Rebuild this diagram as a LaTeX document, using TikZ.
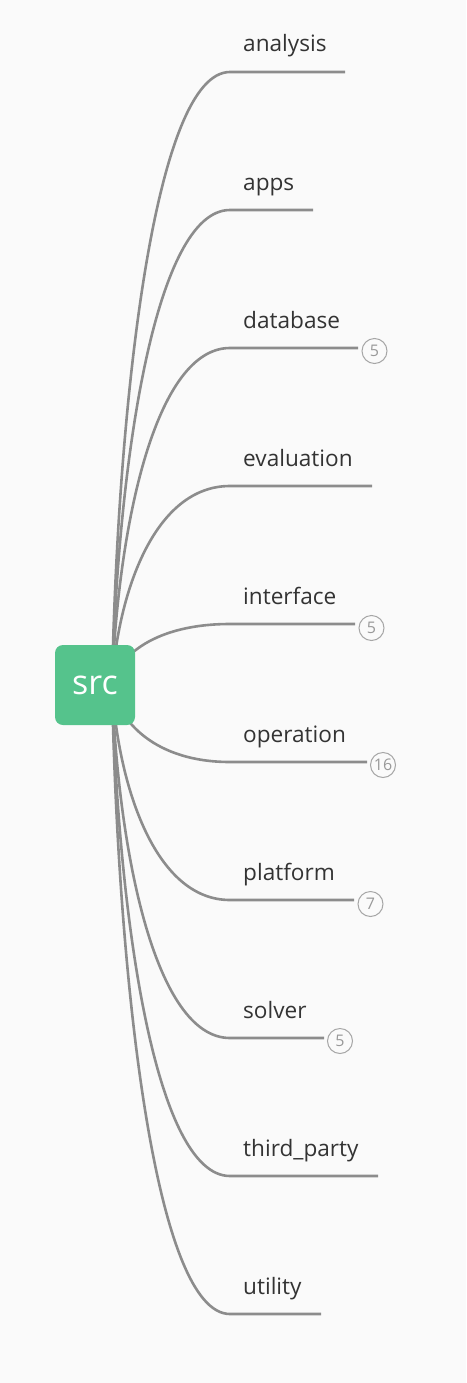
\documentclass[tikz,border=0pt]{standalone}
\usepackage{fontspec}
\setmainfont{Open Sans}
\definecolor{bg}{HTML}{FAFAFA}
\definecolor{edgec}{HTML}{8C8C8C}
\definecolor{rootc}{HTML}{55C38C}
\definecolor{txt}{HTML}{333333}
\definecolor{badgec}{HTML}{A6A6A6}
\definecolor{badget}{HTML}{999999}
\begin{document}
\begin{tikzpicture}[x=1pt,y=-1pt,
 edgeline/.style={draw=edgec,line width=2.6pt},
 leaf/.style={anchor=base west,inner sep=0pt,text=txt,font=\fontsize{22.6}{26}\selectfont},
 badge/.style={circle,draw=badgec,line width=1pt,minimum size=25pt,inner sep=0pt,text=badget,font=\fontsize{16}{18}\selectfont},
 root/.style={fill=rootc,rounded corners=8pt,minimum width=80pt,minimum height=80pt,inner sep=0pt,text=white,font=\fontsize{34}{36}\selectfont}]
\fill[bg] (0,0) rectangle (466,1383);
\useasboundingbox (0,0) rectangle (466,1383);
\coordinate (o) at (112,685);
% branches
\coordinate (b1) at (230,72);   \coordinate (e1) at (345,72);
\coordinate (b2) at (230,210);  \coordinate (e2) at (313,210);
\coordinate (b3) at (230,348);  \coordinate (e3) at (358,348);
\coordinate (b4) at (230,486);  \coordinate (e4) at (372,486);
\coordinate (b5) at (230,624);  \coordinate (e5) at (355,624);
\coordinate (b6) at (230,762);  \coordinate (e6) at (367,762);
\coordinate (b7) at (230,900);  \coordinate (e7) at (354,900);
\coordinate (b8) at (230,1038); \coordinate (e8) at (324,1038);
\coordinate (b9) at (230,1176); \coordinate (e9) at (378,1176);
\coordinate (b10) at (230,1314);\coordinate (e10) at (321,1314);
\draw[edgeline] (o) .. controls (118,397) and (155,72) .. (b1) -- (e1);
\draw[edgeline] (o) .. controls (118,462) and (155,210) .. (b2) -- (e2);
\draw[edgeline] (o) .. controls (118,527) and (155,348) .. (b3) -- (e3);
\draw[edgeline] (o) .. controls (118,591) and (155,486) .. (b4) -- (e4);
\draw[edgeline] (o) .. controls (118,656) and (155,624) .. (b5) -- (e5);
\draw[edgeline] (o) .. controls (118,721) and (155,762) .. (b6) -- (e6);
\draw[edgeline] (o) .. controls (118,786) and (155,900) .. (b7) -- (e7);
\draw[edgeline] (o) .. controls (118,851) and (155,1038) .. (b8) -- (e8);
\draw[edgeline] (o) .. controls (118,916) and (155,1176) .. (b9) -- (e9);
\draw[edgeline] (o) .. controls (118,981) and (155,1314) .. (b10) -- (e10);
% labels
\node[leaf] (t1) at (243,52) {analysis};
\node[leaf] (t2) at (243,190) {apps};
\node[leaf] (t3) at (243,328) {database};
\node[leaf] (t4) at (243,466) {evaluation};
\node[leaf] (t5) at (243,604) {interface};
\node[leaf] (t6) at (243,742) {operation};
\node[leaf] (t7) at (243,880) {platform};
\node[leaf] (t8) at (243,1018) {solver};
\node[leaf] (t9) at (243,1156) {third\_party};
\node[leaf] (t10) at (243,1294) {utility};
% badges
\node[badge] (n3) at (374.5,351) {5};
\node[badge] (n5) at (371.5,628) {5};
\node[badge] (n6) at (383,765) {16};
\node[badge] (n7) at (370.5,904) {7};
\node[badge] (n8) at (340,1041) {5};
% root
\node[root] (src) at (95,685) {src};
\end{tikzpicture}
\end{document}
